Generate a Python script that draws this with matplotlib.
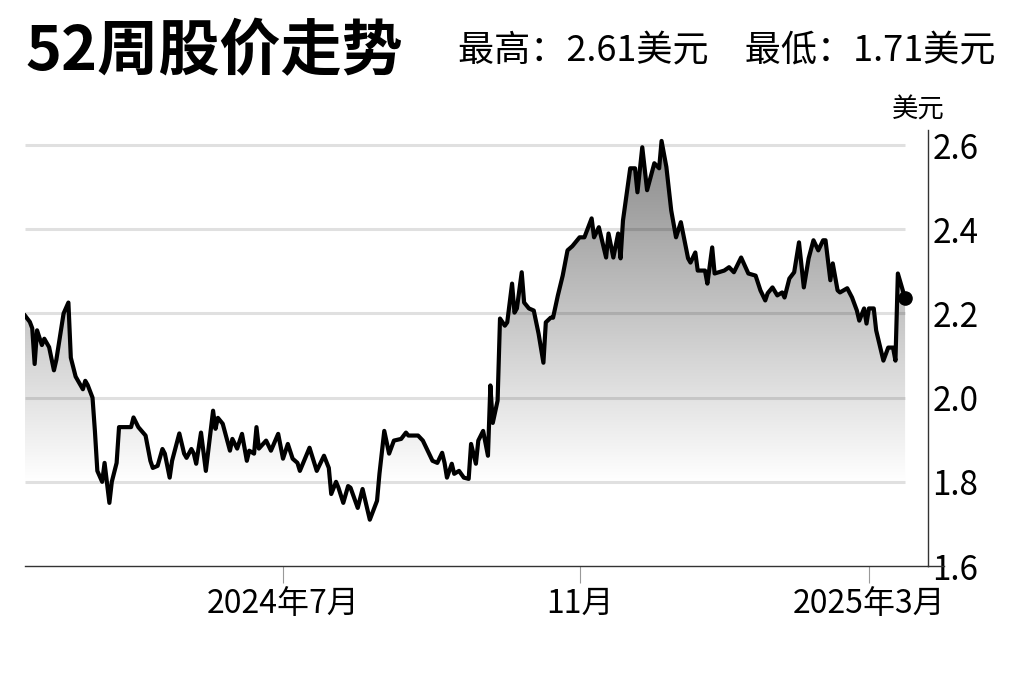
import numpy as np
import pandas as pd
import matplotlib
matplotlib.use('Agg')
import matplotlib.pyplot as plt
import matplotlib.dates as mdates
from matplotlib.colors import LinearSegmentedColormap, Normalize

plt.rcParams['font.family'] = ['Noto Sans CJK SC', 'DejaVu Sans']

# data (days since start, price in USD)
start_date = '2024-03-16'
day_offsets = [
    0, 2, 3, 4, 5, 7, 8, 10, 12, 13,
    16, 18, 19, 21, 24, 25, 26, 28, 29, 30,
    32, 33, 35, 36, 38, 39, 44, 45, 47, 50,
    52, 53, 55, 57, 58, 60, 61, 64, 66, 67,
    69, 70, 71, 73, 75, 78, 79, 80, 82, 85,
    86, 88, 90, 92, 93, 95, 96, 97, 100, 102,
    105, 107, 109, 111, 113, 114, 118, 121, 124, 126,
    127, 129, 130, 132, 134, 135, 138, 140, 143, 146,
    147, 149, 151, 153, 156, 158, 159, 163, 165, 169,
    171, 173, 174, 175, 177, 178, 180, 182, 184, 185,
    187, 188, 190, 192, 193, 194, 196, 197, 199, 200,
    202, 203, 204, 206, 207, 209, 211, 213, 215, 216,
    218, 219, 221, 223, 225, 227, 230, 232, 235, 236,
    238, 241, 242, 244, 246, 247, 248, 251, 253, 254,
    256, 258, 261, 263, 264, 266, 268, 270, 272, 275,
    276, 278, 279, 282, 283, 285, 286, 290, 292, 294,
    297, 300, 303, 305, 307, 308, 310, 312, 314, 315,
    317, 319, 321, 323, 325, 327, 329, 331, 332, 334,
    335, 337, 338, 341, 343, 345, 346, 348, 349, 350,
    352, 353, 356, 358, 360, 361, 362, 365,
]
prices = [
    2.195, 2.18, 2.165, 2.08, 2.16, 2.125, 2.14, 2.12, 2.065, 2.09,
    2.20, 2.226, 2.095, 2.05, 2.02, 2.04, 2.03, 2.00, 1.92, 1.826,
    1.80, 1.845, 1.75, 1.80, 1.845, 1.93, 1.93, 1.953, 1.93, 1.91,
    1.85, 1.833, 1.838, 1.878, 1.867, 1.81, 1.85, 1.915, 1.867, 1.857,
    1.878, 1.867, 1.843, 1.917, 1.826, 1.969, 1.926, 1.952, 1.938, 1.874,
    1.902, 1.879, 1.914, 1.85, 1.874, 1.867, 1.93, 1.879, 1.898, 1.874,
    1.914, 1.855, 1.89, 1.855, 1.845, 1.826, 1.881, 1.826, 1.862, 1.833,
    1.771, 1.80, 1.786, 1.75, 1.79, 1.786, 1.738, 1.783, 1.71, 1.755,
    1.819, 1.921, 1.867, 1.898, 1.902, 1.917, 1.91, 1.91, 1.898, 1.85,
    1.845, 1.869, 1.845, 1.81, 1.843, 1.819, 1.826, 1.81, 1.807, 1.89,
    1.843, 1.898, 1.921, 1.862, 2.029, 1.94, 1.993, 2.188, 2.171, 2.179,
    2.271, 2.202, 2.212, 2.298, 2.226, 2.212, 2.207, 2.152, 2.083, 2.179,
    2.19, 2.19, 2.243, 2.29, 2.35, 2.36, 2.381, 2.381, 2.426, 2.381,
    2.405, 2.333, 2.39, 2.333, 2.39, 2.331, 2.421, 2.545, 2.545, 2.488,
    2.595, 2.493, 2.557, 2.545, 2.61, 2.548, 2.445, 2.381, 2.417, 2.331,
    2.321, 2.345, 2.302, 2.302, 2.271, 2.357, 2.295, 2.302, 2.31, 2.298,
    2.333, 2.295, 2.29, 2.255, 2.231, 2.248, 2.262, 2.243, 2.25, 2.238,
    2.283, 2.298, 2.369, 2.262, 2.331, 2.374, 2.35, 2.374, 2.374, 2.279,
    2.319, 2.255, 2.25, 2.26, 2.238, 2.207, 2.183, 2.212, 2.176, 2.212,
    2.212, 2.16, 2.088, 2.119, 2.119, 2.088, 2.295, 2.236,
]
y_ticks = [1.6, 1.8, 2.0, 2.2, 2.4, 2.6]
grid_levels = [1.8, 2.0, 2.2, 2.4, 2.6]
x_tick_dates = ['2024-07-01', '2024-11-01', '2025-03-01']
x_tick_labels = ['2024年7月', '11月', '2025年3月']
title = '52周股价走势'
high_low = '最高：2.61美元　最低：1.71美元'
unit = '美元'

dates = pd.Timestamp(start_date) + pd.to_timedelta(day_offsets, unit='D')
ymin, ymax = 1.6, 2.636

fig = plt.figure(figsize=(10.24, 6.82), dpi=100)
ax = fig.add_axes([25 / 1024, 116 / 682, 903 / 1024, 436 / 682])

x0 = mdates.date2num(dates[0])
x1 = mdates.date2num(dates[0] + pd.Timedelta(days=374.5))
ax.set_xlim(x0, x1)
ax.set_ylim(ymin, ymax)

# gradient fill under the line
poly = ax.fill_between(dates, prices, ymin, facecolor='none', edgecolor='none')
cmap = LinearSegmentedColormap.from_list('g', ['#ffffff', '#808080'])
grad = np.linspace(ymin, ymax, 300).reshape(-1, 1)
im = ax.imshow(grad, extent=[x0, mdates.date2num(dates[-1]), ymin, ymax],
               origin='lower', aspect='auto', cmap=cmap,
               norm=Normalize(vmin=1.8, vmax=2.68), zorder=1)
im.set_clip_path(poly.get_paths()[0], ax.transData)

ax.hlines(grid_levels, dates[0], dates[-1], color='black', alpha=0.12,
          lw=2.2, zorder=2)

ax.plot(dates, prices, color='black', lw=3.0, zorder=4,
        solid_joinstyle='round')
ax.plot(dates[-1], prices[-1], 'o', ms=9.5, color='black', zorder=5)

for s in ['top', 'left']:
    ax.spines[s].set_visible(False)
ax.spines['right'].set_color('#333333')
ax.spines['bottom'].set_color('#333333')
ax.spines['right'].set_linewidth(1)
ax.spines['bottom'].set_linewidth(1)

ax.yaxis.tick_right()
ax.set_yticks(y_ticks)
ax.set_yticklabels([f'{v:.1f}' for v in y_ticks])
ax.tick_params(axis='y', length=0, pad=3, labelsize=24)
# extend the baseline past the y axis like the original
ax.plot([x1, x1 + 6.5], [ymin, ymin], color='#333333', lw=1,
        clip_on=False, zorder=3)

ax.set_xticks(mdates.date2num(pd.to_datetime(x_tick_dates)))
ax.set_xticklabels(x_tick_labels)
ax.tick_params(axis='x', length=12, width=0.8, color='#999999', pad=4,
               labelsize=23)

fig.text(25 / 1024, 1 - 52 / 682, title, fontsize=44, fontweight='bold',
         va='center', ha='left')
fig.text(996 / 1024, 1 - 51 / 682, high_low, fontsize=26,
         va='center', ha='right')
fig.text(918 / 1024, 1 - 110 / 682, unit, fontsize=19, va='center',
         ha='center')

fig.savefig('out.png', dpi=100)
